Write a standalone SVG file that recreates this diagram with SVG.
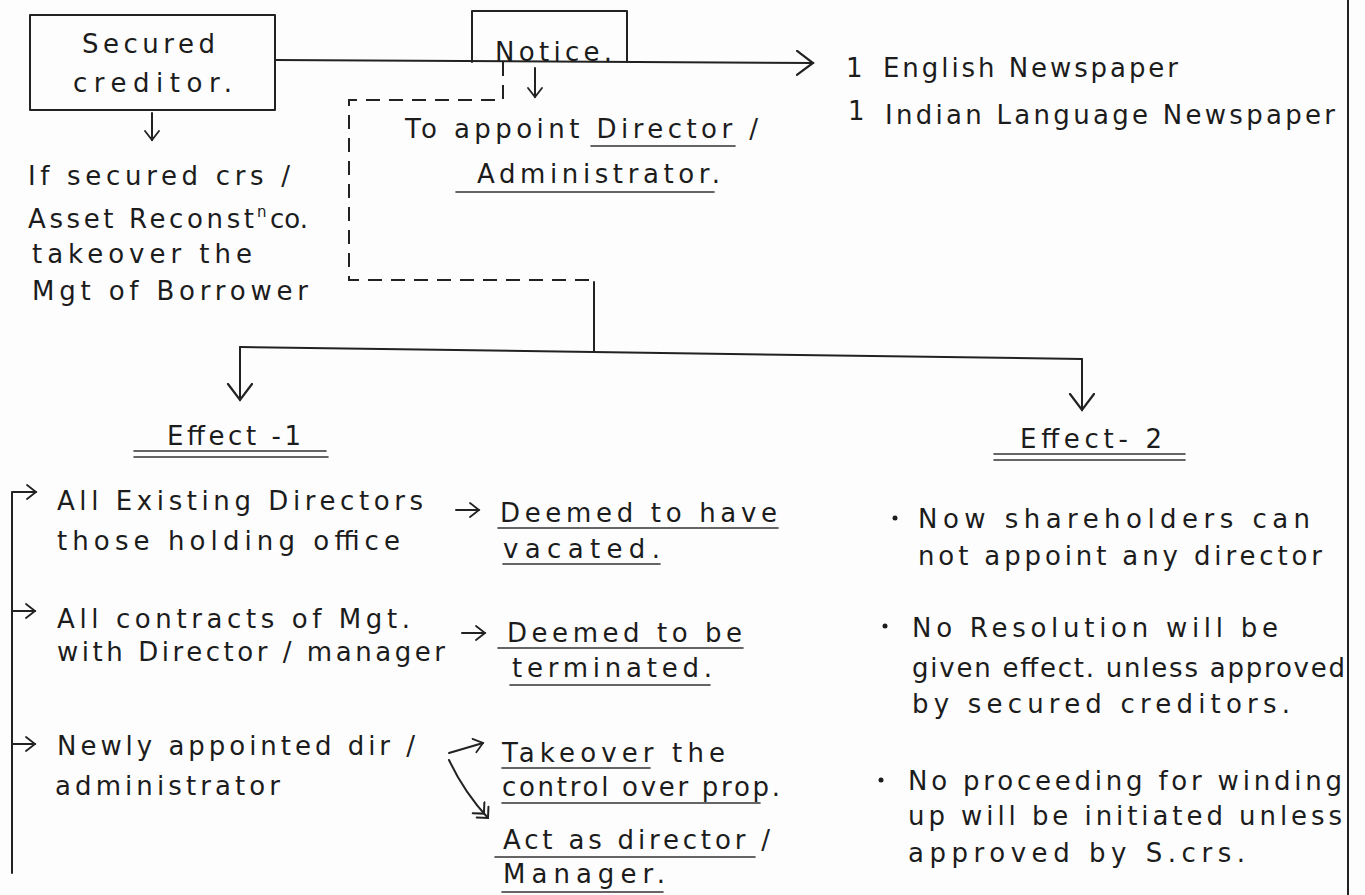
<svg xmlns="http://www.w3.org/2000/svg" width="1365" height="895" viewBox="0 0 1365 895">
  <defs>
    <style>
      .t { font-family: "DejaVu Sans", "Liberation Sans", sans-serif; font-size: 26px; fill: #1c1c1c; }
      .sup { font-size: 15px; }
      .ln { fill: none; stroke: #222; stroke-width: 2; stroke-linecap: round; stroke-linejoin: round; }
      .thin { fill: none; stroke: #333; stroke-width: 1.6; stroke-linecap: round; }
      .dash { fill: none; stroke: #222; stroke-width: 2; stroke-dasharray: 14 9; }
      .dot { fill: #1c1c1c; }
    </style>
    <marker id="head-lg" markerUnits="userSpaceOnUse" markerWidth="22" markerHeight="30" refX="17" refY="13" orient="auto">
      <path d="M1,1 L17,13 L1,25" fill="none" stroke="#222" stroke-width="2.2" stroke-linecap="round"/>
    </marker>
    <marker id="head-sm" markerUnits="userSpaceOnUse" markerWidth="14" markerHeight="20" refX="10" refY="9" orient="auto">
      <path d="M1,2 L10,9 L1,16" fill="none" stroke="#222" stroke-width="1.8" stroke-linecap="round"/>
    </marker>
    <marker id="head-dbl" markerUnits="userSpaceOnUse" markerWidth="20" markerHeight="22" refX="15" refY="10" orient="auto">
      <path d="M1,2 L9,10 L1,18 M7,2 L15,10 L7,18" fill="none" stroke="#222" stroke-width="2" stroke-linecap="round"/>
    </marker>
  </defs>

  <rect width="1365" height="895" fill="#fdfdfd"/>

  <!-- page edge on the right -->
  <line class="ln" x1="1348" y1="0" x2="1348" y2="895"/>

  <g id="connectors">
    <!-- secured creditor through notice to newspapers -->
    <path class="ln" d="M275,60 L813,63" marker-end="url(#head-lg)"/>
    <!-- secured creditor down -->
    <path class="ln" d="M152,113 L152,140" marker-end="url(#head-sm)"/>
    <!-- notice down -->
    <path class="ln" d="M535,68 L535,97" marker-end="url(#head-sm)"/>
    <!-- dashed loop from notice -->
    <path class="dash" d="M503,62 L503,100 L349,100 L349,280 L594,280"/>
    <path class="ln" d="M594,282 L594,352"/>
    <!-- split to the two effects -->
    <path class="ln" d="M240,347 L1082,359"/>
    <path class="ln" d="M240,347 L240,400" marker-end="url(#head-lg)"/>
    <path class="ln" d="M1082,359 L1082,410" marker-end="url(#head-lg)"/>
    <!-- effect 1 bracket -->
    <path class="ln" d="M12,873 L12,492 L36,492" marker-end="url(#head-sm)"/>
    <path class="ln" d="M12,611 L35,611" marker-end="url(#head-sm)"/>
    <path class="ln" d="M12,744 L35,744" marker-end="url(#head-sm)"/>
    <!-- outcome arrows -->
    <path class="ln" d="M456,510 L479,510" marker-end="url(#head-sm)"/>
    <path class="ln" d="M462,633 L485,633" marker-end="url(#head-sm)"/>
    <path class="ln" d="M449,753 L483,743" marker-end="url(#head-sm)"/>
    <path class="ln" d="M449,760 Q464,792 488,818" marker-end="url(#head-dbl)"/>
  </g>

  <g id="secured-creditor">
    <rect class="ln" x="30" y="15" width="245" height="95"/>
    <text class="t" x="82" y="53" textLength="133" lengthAdjust="spacing">Secured</text>
    <text class="t" x="73" y="92" textLength="159" lengthAdjust="spacing">creditor.</text>
  </g>

  <g id="takeover-condition">
    <text class="t" x="28" y="185" textLength="262" lengthAdjust="spacing">If secured crs /</text>
    <text class="t" x="28" y="228" textLength="226" lengthAdjust="spacing">Asset Reconst</text>
    <text class="t sup" x="257" y="217">n</text>
    <text class="t" x="270" y="228" textLength="38" lengthAdjust="spacing">co.</text>
    <text class="t" x="32" y="263" textLength="220" lengthAdjust="spacing">takeover the</text>
    <text class="t" x="32" y="300" textLength="276" lengthAdjust="spacing">Mgt of Borrower</text>
  </g>

  <g id="notice">
    <path class="ln" d="M472,62 L472,11 L627,11 L627,62"/>
    <text class="t" x="495" y="61" textLength="117" lengthAdjust="spacing">Notice.</text>
  </g>

  <g id="appoint">
    <text class="t" x="405" y="138" textLength="353" lengthAdjust="spacing">To appoint Director /</text>
    <line class="thin" x1="591" y1="146" x2="735" y2="146"/>
    <text class="t" x="477" y="183" textLength="243" lengthAdjust="spacing">Administrator.</text>
    <line class="thin" x1="456" y1="192" x2="714" y2="192"/>
  </g>

  <g id="newspapers">
    <text class="t" x="846" y="77">1</text>
    <text class="t" x="883" y="77" textLength="295" lengthAdjust="spacing">English Newspaper</text>
    <text class="t" x="848" y="120">1</text>
    <text class="t" x="885" y="124" textLength="450" lengthAdjust="spacing">Indian Language Newspaper</text>
  </g>

  <g id="effect-1">
    <text class="t" x="167" y="445" textLength="134" lengthAdjust="spacing">Effect -1</text>
    <line class="thin" x1="134" y1="451" x2="326" y2="451"/>
    <line class="thin" x1="134" y1="457" x2="328" y2="457"/>
  </g>

  <g id="effect-2">
    <text class="t" x="1020" y="448" textLength="142" lengthAdjust="spacing">Effect- 2</text>
    <line class="thin" x1="994" y1="454" x2="1185" y2="454"/>
    <line class="thin" x1="994" y1="460" x2="1185" y2="460"/>
  </g>

  <g id="existing-directors">
    <text class="t" x="57" y="510" textLength="366" lengthAdjust="spacing">All Existing Directors</text>
    <text class="t" x="57" y="550" textLength="343" lengthAdjust="spacing">those holding office</text>
  </g>

  <g id="vacated">
    <text class="t" x="500" y="522" textLength="277" lengthAdjust="spacing">Deemed to have</text>
    <line class="thin" x1="498" y1="528" x2="778" y2="528"/>
    <text class="t" x="503" y="558" textLength="157" lengthAdjust="spacing">vacated.</text>
    <line class="thin" x1="503" y1="564" x2="660" y2="564"/>
  </g>

  <g id="contracts">
    <text class="t" x="57" y="628" textLength="353" lengthAdjust="spacing">All contracts of Mgt.</text>
    <text class="t" x="57" y="661" textLength="388" lengthAdjust="spacing">with Director / manager</text>
  </g>

  <g id="terminated">
    <text class="t" x="507" y="642" textLength="235" lengthAdjust="spacing">Deemed to be</text>
    <line class="thin" x1="498" y1="648" x2="743" y2="648"/>
    <text class="t" x="512" y="677" textLength="200" lengthAdjust="spacing">terminated.</text>
    <line class="thin" x1="510" y1="685" x2="710" y2="685"/>
  </g>

  <g id="new-administrator">
    <text class="t" x="57" y="755" textLength="358" lengthAdjust="spacing">Newly appointed dir /</text>
    <text class="t" x="55" y="795" textLength="225" lengthAdjust="spacing">administrator</text>
  </g>

  <g id="takeover-control">
    <text class="t" x="502" y="762" textLength="223" lengthAdjust="spacing">Takeover the</text>
    <line class="thin" x1="502" y1="768" x2="650" y2="768"/>
    <text class="t" x="502" y="796" textLength="278" lengthAdjust="spacing">control over prop.</text>
    <line class="thin" x1="502" y1="803" x2="760" y2="803"/>
  </g>

  <g id="act-as-director">
    <text class="t" x="503" y="849" textLength="267" lengthAdjust="spacing">Act as director /</text>
    <line class="thin" x1="495" y1="857" x2="755" y2="857"/>
    <text class="t" x="503" y="883" textLength="162" lengthAdjust="spacing">Manager.</text>
    <line class="thin" x1="502" y1="892" x2="663" y2="892"/>
  </g>

  <g id="shareholders">
    <circle class="dot" cx="895" cy="518" r="2.5"/>
    <text class="t" x="918" y="528" textLength="392" lengthAdjust="spacing">Now shareholders can</text>
    <text class="t" x="918" y="565" textLength="404" lengthAdjust="spacing">not appoint any director</text>
  </g>

  <g id="resolution">
    <circle class="dot" cx="885" cy="626" r="2.5"/>
    <text class="t" x="912" y="637" textLength="366" lengthAdjust="spacing">No Resolution will be</text>
    <text class="t" x="912" y="677" textLength="433" lengthAdjust="spacing">given effect. unless approved</text>
    <text class="t" x="912" y="713" textLength="378" lengthAdjust="spacing">by secured creditors.</text>
  </g>

  <g id="winding-up">
    <circle class="dot" cx="881" cy="780" r="2.5"/>
    <text class="t" x="908" y="790" textLength="434" lengthAdjust="spacing">No proceeding for winding</text>
    <text class="t" x="908" y="825" textLength="434" lengthAdjust="spacing">up will be initiated unless</text>
    <text class="t" x="908" y="862" textLength="337" lengthAdjust="spacing">approved by S.crs.</text>
  </g>
</svg>
